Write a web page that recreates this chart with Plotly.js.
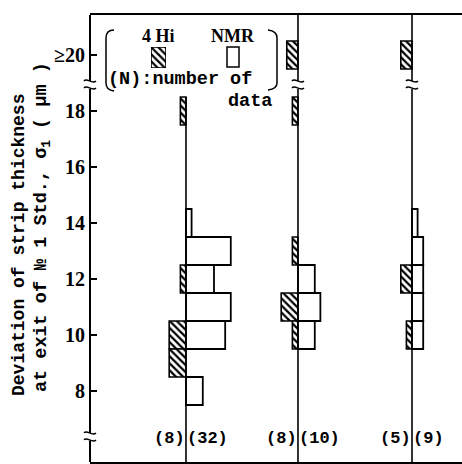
<!DOCTYPE html>
<html>
<head>
<meta charset="utf-8">
<script src="https://cdn.plot.ly/plotly-3.0.1.min.js"></script>
<style>
  html, body { margin: 0; padding: 0; background: #fff; }
  #chart { width: 462px; height: 464px; }
</style>
</head>
<body>
<div id="chart"></div>
<script>
// ---- data ----
// class centres of sigma1 (um); 20 stands for ">=20"
const bins = [20, 18, 14, 13, 12, 11, 10, 9, 8];
const tickVals = [8, 10, 12, 14, 16, 18, 20];
const tickText = ['8', '10', '12', '14', '16', '18', '\u226520'];
// counts per class, 3 groups, 4Hi (hatched, left) and NMR (open, right)
const hi4_g1 = [0, 1, 0, 0, 1, 0, 3, 3, 0];
const nmr_g1 = [0, 0, 1, 8, 5, 8, 7, 0, 3];
const hi4_g2 = [2, 1, 0, 1, 0, 3, 1, 0, 0];
const nmr_g2 = [0, 0, 0, 0, 3, 4, 3, 0, 0];
const hi4_g3 = [2, 0, 0, 0, 2, 0, 1, 0, 0];
const nmr_g3 = [0, 0, 1, 2, 2, 2, 2, 0, 0];

// ---- layout constants ----
const W = 462, H = 464;
const M = {l: 90, r: 0, t: 15, b: 2};
const pxPerCount = 5.6;
const plotW = W - M.l - M.r, plotH = H - M.t - M.b;
const xMax = plotW / pxPerCount;
const groupBase = [17.14, 37.14, 57.5];
const yPerPx = 1 / 28;
const y8px = 391 - M.t;           // pixel row of value 8 inside plot
const yMax = 8 + y8px * yPerPx;
const yMin = yMax - plotH * yPerPx;
const breakY = 18.93, breakYLow = 6.36;

const groups = [[hi4_g1, nmr_g1], [hi4_g2, nmr_g2], [hi4_g3, nmr_g3]];

const hatchMarker = {
  color: 'white',
  line: {color: 'black', width: 1.6},
  pattern: {shape: '\\', fgcolor: 'black', bgcolor: 'white', size: 5, solidity: 0.45}
};
const openMarker = {color: 'white', line: {color: 'black', width: 1.8}};

const traces = [];
groups.forEach(([h, n], gi) => {
  const base = groupBase[gi];
  const mk = (counts, sign, marker, name) => {
    const ys = [], xs = [];
    counts.forEach((c, i) => { if (c > 0) { ys.push(bins[i]); xs.push(sign * c); } });
    traces.push({
      type: 'bar', orientation: 'h', y: ys, x: xs, base: base, width: 1,
      marker: marker, name: name, showlegend: false, hoverinfo: 'skip'
    });
  };
  mk(h, -1, hatchMarker, '4 Hi');
  mk(n, 1, openMarker, 'NMR');
});

// legend swatch (hatched) on a small hidden subplot
const pX = X => (X - M.l) / plotW;
const pY = Y => (H - M.b - Y) / plotH;
traces.push({
  type: 'bar', x: [0.5], y: [1], width: [1], base: 0,
  xaxis: 'x2', yaxis: 'y2', marker: hatchMarker, showlegend: false, hoverinfo: 'skip'
});

const shapes = [];
const lineSeg = (xref, x, y0, y1, w) => shapes.push({
  type: 'line', xref: xref, yref: 'y', x0: x, x1: x, y0: y0, y1: y1,
  line: {color: 'black', width: w}, layer: 'above'
});
const gap = 0.14;
// left axis with two breaks
lineSeg('paper', 0, yMin, breakYLow - gap, 2);
lineSeg('paper', 0, breakYLow + gap, breakY - gap, 2);
lineSeg('paper', 0, breakY + gap, yMax, 2);
// group base lines
lineSeg('x', groupBase[0], yMin, 18.5, 1.6);
[1, 2].forEach(g => {
  lineSeg('x', groupBase[g], yMin, breakY - gap, 1.6);
  lineSeg('x', groupBase[g], breakY + gap, yMax, 1.6);
});
// break marks
const wave = (xref, x, y) => {
  ['M-6,4 C-3,8 2,0 6,4', 'M-6,-3 C-3,1 2,-7 6,-3'].forEach(p => shapes.push({
    type: 'path', xref: xref, yref: 'y', xsizemode: 'pixel', ysizemode: 'pixel',
    xanchor: x, yanchor: y, path: p, line: {color: 'black', width: 1.5}, layer: 'above'
  }));
};
wave('paper', 0, breakYLow);
wave('paper', 0, breakY);
wave('x', groupBase[1], breakY);
wave('x', groupBase[2], breakY);
// legend brackets and open swatch
const P = (X, Y) => pX(X).toFixed(4) + ',' + pY(Y).toFixed(4);
shapes.push({type: 'path', xref: 'paper', yref: 'paper', layer: 'above',
  path: 'M' + P(114, 30) + ' Q' + P(106, 30) + ' ' + P(106, 38) + ' L' + P(106, 83) +
        ' Q' + P(106, 90) + ' ' + P(114, 91),
  line: {color: 'black', width: 1.5}});
shapes.push({type: 'path', xref: 'paper', yref: 'paper', layer: 'above',
  path: 'M' + P(268, 30) + ' Q' + P(277, 31) + ' ' + P(277, 38) + ' L' + P(277, 83) +
        ' Q' + P(277, 89) + ' ' + P(268, 90),
  line: {color: 'black', width: 1.5}});
shapes.push({type: 'rect', xref: 'paper', yref: 'paper', layer: 'above',
  x0: pX(227), x1: pX(239), y0: pY(67), y1: pY(47),
  line: {color: 'black', width: 1.5}, fillcolor: 'white'});

const monoB = (s) => ({family: 'Liberation Mono, monospace', size: s, color: 'black', weight: 'bold'});
const serifB = (s) => ({family: 'Liberation Serif, serif', size: s, color: 'black', weight: 'bold'});

const annotations = [];
groups.forEach(([h, n], gi) => {
  const sum = a => a.reduce((s, v) => s + v, 0);
  annotations.push({x: groupBase[gi], y: 6.32, xref: 'x', yref: 'y', text: '(' + sum(h) + ')',
    xanchor: 'right', yanchor: 'middle', showarrow: false, font: monoB(17), xshift: 1});
  annotations.push({x: groupBase[gi], y: 6.32, xref: 'x', yref: 'y', text: '(' + sum(n) + ')',
    xanchor: 'left', yanchor: 'middle', showarrow: false, font: monoB(17), xshift: -1});
});
// y axis title (two rotated lines)
annotations.push({xref: 'paper', yref: 'paper', x: pX(19), y: pY(245), textangle: -90,
  text: 'Deviation of strip thickness', showarrow: false, font: monoB(18),
  xanchor: 'center', yanchor: 'middle'});
annotations.push({xref: 'paper', yref: 'paper', x: pX(43), y: pY(227), textangle: -90,
  text: 'at exit of \u2116 1 Std., \u03c3<sub>1</sub> ( \u03bcm )', showarrow: false, font: monoB(18.5),
  xanchor: 'center', yanchor: 'middle'});
// legend texts
annotations.push({xref: 'paper', yref: 'paper', x: pX(158), y: pY(36), text: '4 Hi',
  showarrow: false, font: serifB(18), xanchor: 'center', yanchor: 'middle'});
annotations.push({xref: 'paper', yref: 'paper', x: pX(233), y: pY(36), text: 'NMR',
  showarrow: false, font: serifB(18), xanchor: 'center', yanchor: 'middle'});
annotations.push({xref: 'paper', yref: 'paper', x: pX(107), y: pY(80), text: '(N):number of',
  showarrow: false, font: monoB(18.5), xanchor: 'left', yanchor: 'middle', borderpad: 0});
annotations.push({xref: 'paper', yref: 'paper', x: pX(273), y: pY(101), text: 'data',
  showarrow: false, font: monoB(18.5), xanchor: 'right', yanchor: 'middle', borderpad: 0});

const layout = {
  width: W, height: H, margin: M,
  paper_bgcolor: 'white', plot_bgcolor: 'white',
  barmode: 'overlay', showlegend: false,
  xaxis: {range: [0, xMax], showticklabels: false, ticks: '', showgrid: false, zeroline: false,
    showline: true, mirror: true, linecolor: 'black', linewidth: 2, fixedrange: true},
  yaxis: {range: [yMin, yMax], tickvals: tickVals, ticktext: tickText, ticks: 'inside',
    ticklen: 7, tickwidth: 1.5, tickcolor: 'black', showgrid: false, zeroline: false,
    showline: false, tickfont: serifB(20), ticklabelstandoff: 4, fixedrange: true},
  xaxis2: {domain: [pX(151), pX(166)], range: [0, 1], visible: false, anchor: 'y2'},
  yaxis2: {domain: [pY(68), pY(47)], range: [0, 1], visible: false, anchor: 'x2'},
  shapes: shapes, annotations: annotations
};

Plotly.newPlot('chart', traces, layout, {staticPlot: true, displayModeBar: false});
</script>
</body>
</html>
